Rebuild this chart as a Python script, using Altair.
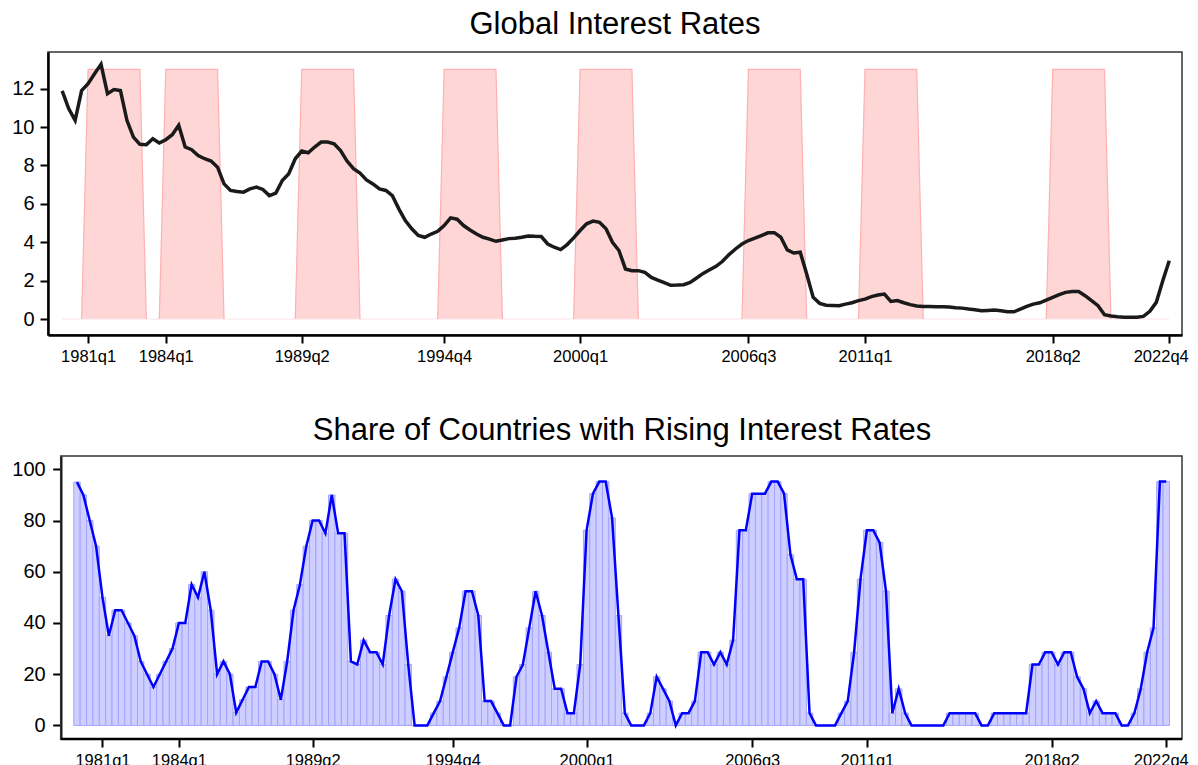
import altair as alt
import pandas as pd

# ---------------- data ----------------
FIRST_YEAR = 1980  # series starts 1980q1, ends 2022q4 (quarterly)

rate = [
    11.88, 10.96, 10.35, 11.90, 12.26, 12.78, 13.27, 11.74, 11.95, 11.90,
    10.35, 9.48, 9.10, 9.08, 9.39, 9.17, 9.34, 9.60, 10.09, 8.96,
    8.82, 8.52, 8.35, 8.23, 7.91, 7.04, 6.70, 6.64, 6.61, 6.78,
    6.87, 6.75, 6.43, 6.56, 7.22, 7.57, 8.35, 8.75, 8.66, 8.96,
    9.22, 9.22, 9.13, 8.78, 8.23, 7.83, 7.60, 7.25, 7.04, 6.78,
    6.70, 6.43, 5.74, 5.13, 4.70, 4.35, 4.26, 4.43, 4.57, 4.87,
    5.27, 5.20, 4.87, 4.64, 4.43, 4.26, 4.16, 4.05, 4.12, 4.19,
    4.21, 4.26, 4.33, 4.31, 4.30, 3.91, 3.74, 3.62, 3.88, 4.23,
    4.61, 4.96, 5.10, 5.04, 4.70, 4.00, 3.57, 2.61, 2.52, 2.52,
    2.43, 2.17, 2.03, 1.90, 1.76, 1.77, 1.79, 1.91, 2.14, 2.38,
    2.57, 2.75, 3.01, 3.36, 3.65, 3.91, 4.09, 4.21, 4.35, 4.49,
    4.50, 4.26, 3.60, 3.44, 3.48, 2.35, 1.13, 0.82, 0.72, 0.71,
    0.70, 0.78, 0.85, 0.96, 1.04, 1.17, 1.25, 1.30, 0.92, 0.96,
    0.85, 0.75, 0.68, 0.66, 0.66, 0.64, 0.64, 0.63, 0.59, 0.57,
    0.52, 0.49, 0.43, 0.45, 0.47, 0.43, 0.38, 0.38, 0.52, 0.66,
    0.78, 0.85, 0.99, 1.13, 1.27, 1.39, 1.44, 1.43, 1.22, 0.96,
    0.70, 0.23, 0.16, 0.12, 0.09, 0.09, 0.09, 0.14, 0.40, 0.87,
    2.00, 3.04,
]

share = [
    95, 90, 80, 70, 50, 35, 45, 45, 40, 35,
    25, 20, 15, 20, 25, 30, 40, 40, 55, 50,
    60, 45, 20, 25, 20, 5, 10, 15, 15, 25,
    25, 20, 10, 25, 45, 55, 70, 80, 80, 75,
    90, 75, 75, 25, 23.8, 33.3, 28.6, 28.6, 23.8, 42.9,
    57.1, 52.4, 23.8, 0, 0, 0, 4.8, 9.5, 19.0, 28.6,
    38.1, 52.4, 52.4, 42.9, 9.5, 9.5, 4.8, 0, 0, 19.0,
    23.8, 38.1, 52.4, 42.9, 28.6, 14.3, 14.3, 4.8, 4.8, 23.8,
    76.2, 90.5, 95.2, 95.2, 81.0, 42.9, 4.8, 0, 0, 0,
    4.8, 19.0, 14.3, 9.5, 0, 4.8, 4.8, 9.5, 28.6, 28.6,
    23.8, 28.6, 23.8, 33.3, 76.2, 76.2, 90.5, 90.5, 90.5, 95.2,
    95.2, 90.5, 66.7, 57.1, 57.1, 4.8, 0, 0, 0, 0,
    4.8, 9.5, 28.6, 57.1, 76.2, 76.2, 71.4, 52.4, 4.8, 14.3,
    4.8, 0, 0, 0, 0, 0, 0, 4.8, 4.8, 4.8,
    4.8, 4.8, 0, 0, 4.8, 4.8, 4.8, 4.8, 4.8, 4.8,
    23.8, 23.8, 28.6, 28.6, 23.8, 28.6, 28.6, 19.0, 14.3, 4.8,
    9.5, 4.8, 4.8, 4.8, 0, 0, 4.8, 14.3, 28.6, 38.1,
    95.2, 95.2,
]

episode_start = ["1981q1", "1984q1", "1989q2", "1994q4", "2000q1", "2006q3", "2011q1", "2018q2"]
episode_end = ["1983q1", "1986q1", "1991q2", "1996q4", "2002q1", "2008q3", "2013q1", "2020q2"]
episode_level = 13

tick_labels = ["1981q1", "1984q1", "1989q2", "1994q4", "2000q1", "2006q3", "2011q1", "2018q2", "2022q4"]
top_y_ticks = [0, 2, 4, 6, 8, 10, 12]
bottom_y_ticks = [0, 20, 40, 60, 80, 100]

title_top = "Global Interest Rates"
title_bottom = "Share of Countries with Rising Interest Rates"

# axis ranges (in quarters since 1980q1 / in value units)
TOP_X = [-2.19, 172.97]
TOP_Y = [-0.83, 13.91]
BOT_FRAME_X = [-2.54, 173.47]
BOT_X = [-4.55, 173.47]
BOT_Y = [-5.3, 105.2]


def qidx(label):
    y, q = label.split("q")
    return (int(y) - FIRST_YEAR) * 4 + int(q) - 1


n = len(rate)
assert n == len(share) == 172

df = pd.DataFrame({"q": list(range(n)), "rate": rate, "share": share})
ind = [0] * n
for s, e in zip(episode_start, episode_end):
    for k in range(qidx(s), qidx(e) + 1):
        ind[k] = episode_level
df["ep"] = ind

rows = []
for i, (s, e) in enumerate(zip(episode_start, episode_end)):
    for k in range(qidx(s) - 1, qidx(e) + 2):
        rows.append({"episode": i, "q": k, "ep": ind[k]})
df_out = pd.DataFrame(rows)
df_base = pd.DataFrame({"q": [0], "q2": [n - 1], "y": [0]})
df_frame = pd.DataFrame({"x": [BOT_FRAME_X[0]], "x2": [BOT_FRAME_X[1]],
                         "y": [BOT_Y[0]], "y2": [BOT_Y[1]]})

tick_q = [qidx(t) for t in tick_labels]
label_expr = "floor(datum.value / 4) + %d + 'q' + (datum.value %% 4 + 1)" % FIRST_YEAR

FONT = "Liberation Sans"
PLOT_W = 1134
PLOT_H = 283


def xaxis(flush, flush_offset, **kw):
    return alt.Axis(values=tick_q, labelExpr=label_expr, title=None, grid=False,
                    labelFlush=flush, labelFlushOffset=flush_offset,
                    labelOverlap=False, labelAngle=0,
                    labelFontSize=16.5, labelPadding=5, **kw)


# ---------------- top panel ----------------
xs_top = alt.Scale(domain=TOP_X, nice=False, zero=False)
ys_top = alt.Scale(domain=TOP_Y, nice=False, zero=False)
yax_top = alt.Axis(values=top_y_ticks, title=None, grid=False, labelFontSize=20, labelPadding=6)

area = alt.Chart(df).mark_area(color="#ffd6d6", opacity=1).encode(
    x=alt.X("q:Q", scale=xs_top, axis=xaxis(15, 19)),
    y=alt.Y("ep:Q", scale=ys_top, axis=yax_top),
)
outline = alt.Chart(df_out).mark_line(color="#ffb0b0", strokeWidth=1.2).encode(
    x="q:Q", y="ep:Q", detail="episode:N"
)
base = alt.Chart(df_base).mark_rule(color="#fbe4ea", strokeWidth=1).encode(
    x="q:Q", x2="q2", y="y:Q"
)
line_top = alt.Chart(df).mark_line(color="#1a1a1a", strokeWidth=3.5).encode(
    x="q:Q", y="rate:Q"
)

top = alt.layer(area, base, outline, line_top).properties(
    width=PLOT_W, height=PLOT_H,
    title=alt.Title(title_top, offset=11),
)

# ---------------- bottom panel ----------------
xs_bot = alt.Scale(domain=BOT_X, nice=False, zero=False)
ys_bot = alt.Scale(domain=BOT_Y, nice=False, zero=False)
yax_bot = alt.Axis(values=bottom_y_ticks, title=None, grid=False, labelFontSize=20,
                   labelPadding=7.5, offset=-12.7)

bars = alt.Chart(df).transform_calculate(
    q0="datum.q - 0.5", q1="datum.q + 0.5"
).mark_bar(fill="#cfcfff", stroke="#a3a3ff", strokeWidth=1, opacity=1).encode(
    x=alt.X("q0:Q", scale=xs_bot, axis=xaxis(17, 22, domain=False)),
    x2="q1:Q",
    y=alt.Y("share:Q", scale=ys_bot, axis=yax_bot),
    y2=alt.datum(0),
)
line_bot = alt.Chart(df).mark_line(color="#0000ff", strokeWidth=2.5).encode(
    x="q:Q", y="share:Q"
)
frame = alt.Chart(df_frame).mark_rect(fillOpacity=0, stroke="#333333", strokeWidth=1.5).encode(
    x="x:Q", x2="x2", y="y:Q", y2="y2"
)
frame_bottom = alt.Chart(df_frame).mark_rule(color="black", strokeWidth=2.5).encode(
    x="x:Q", x2="x2", y="y:Q"
)

bottom = alt.layer(bars, line_bot, frame, frame_bottom).properties(
    width=PLOT_W, height=PLOT_H,
    title=alt.Title(title_bottom, offset=8, dx=7),
    view=alt.ViewBackground(stroke="transparent"),
)

chart = alt.vconcat(top, bottom, spacing=48).properties(
    padding={"left": 3, "top": 0, "right": 0, "bottom": 0}
).configure_axis(
    domainColor="black", domainWidth=2.5, tickColor="black", tickWidth=2, tickSize=8,
    labelColor="black", labelFont=FONT, grid=False,
).configure_view(
    stroke="#333333", strokeWidth=1.5
).configure_title(
    font=FONT, fontSize=31, fontWeight="normal", color="black", anchor="middle"
)

chart.save("out.html", embed_options={"renderer": "svg", "actions": False})
